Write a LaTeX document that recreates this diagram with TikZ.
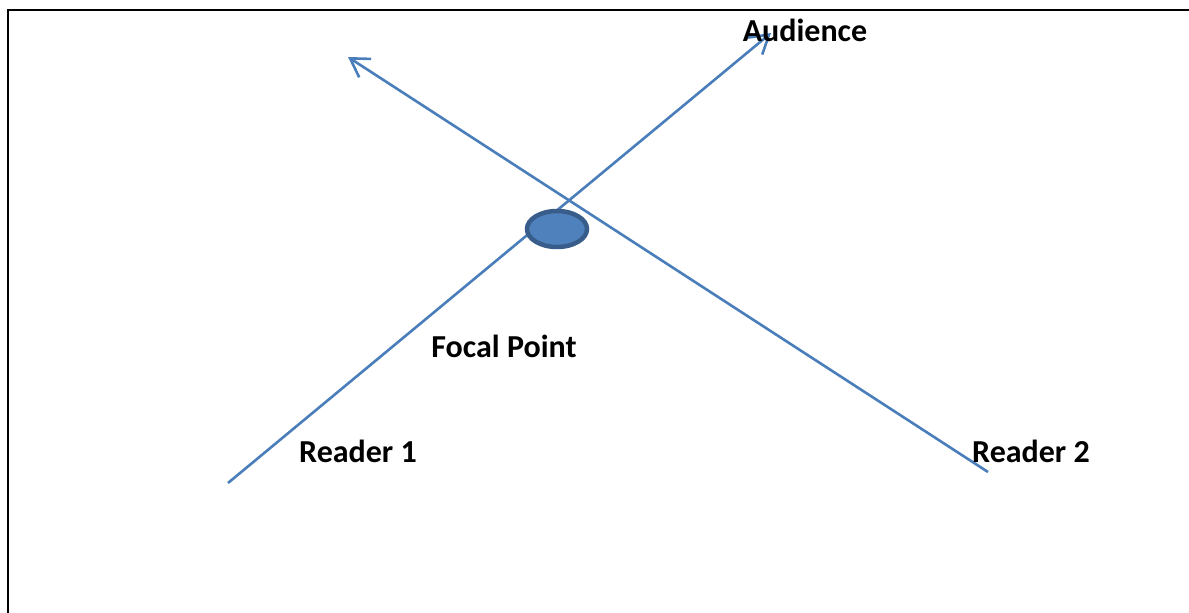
\documentclass[tikz,border=0pt]{standalone}
\usepackage{fontspec}
\setmainfont{Carlito}
\usetikzlibrary{shapes.geometric,arrows.meta}
\definecolor{lineblue}{HTML}{4A7EBB}
\definecolor{fillblue}{HTML}{4F81BD}
\definecolor{edgeblue}{HTML}{385D8A}
\tikzset{
  ray/.style={draw=lineblue,line width=2.6pt,-{Straight Barb[length=18pt,width=22pt,line width=2.6pt]}},
  lbl/.style={font=\fontsize{32}{36}\selectfont\bfseries,inner sep=0pt,anchor=base},
  focalshape/.style={ellipse,draw=edgeblue,fill=fillblue,line width=4.5pt,minimum width=60pt,minimum height=36pt,inner sep=0pt}
}
\begin{document}
\begin{tikzpicture}[x=1pt,y=-1pt]
\useasboundingbox (0,0) rectangle (1189,613);
\coordinate (tl) at (8,10);
\coordinate (tr) at (1189,10);
\coordinate (bl) at (8,613);
\draw[line width=2.2pt,line cap=rect] (bl) -- (tl) -- (tr);
\coordinate (r1) at (228,483);
\coordinate (aud) at (771,33);
\coordinate (r2) at (988,472);
\coordinate (up) at (348,57);
\draw[ray] (r1) -- (aud);
\draw[ray] (r2) -- (up);
\node[focalshape] (focal) at (557,229) {};
\node[lbl] (taud) at (805,41) {Audience};
\node[lbl] (tfocal) at (504,357) {Focal Point};
\node[lbl] (tr1) at (358,462) {Reader 1};
\node[lbl] (tr2) at (1031,462) {Reader 2};
\end{tikzpicture}
\end{document}
